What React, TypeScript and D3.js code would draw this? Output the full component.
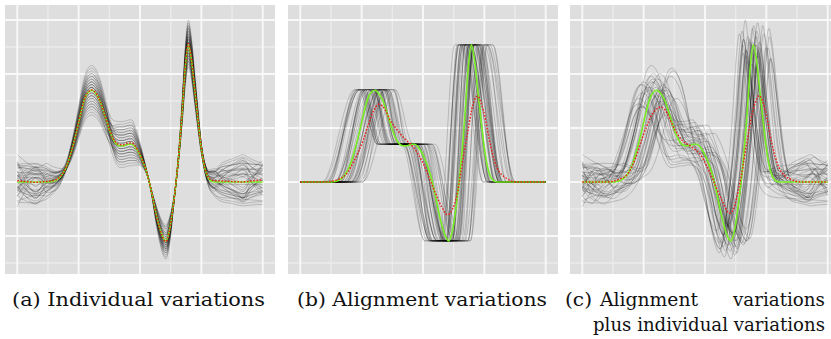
import React from "react";
import * as d3 from "d3";

// ---------- data ----------
const captionA = "(a) Individual variations";
const captionB = "(b) Alignment variations";
const captionCWords = ["(c)", "Alignment", "variations"];
const captionC2 = "plus individual variations";

const xMajor = [0, 0.25, 0.5, 0.75, 1];
const xMinor = [0.125, 0.375, 0.625, 0.875];
const yMajor = [-1, 0, 1, 2, 3];
const yMinor = [-1.5, -0.5, 0.5, 1.5, 2.5];

// template (green) curve: time and value
const tmplT = [0, 0.025, 0.05, 0.075, 0.1, 0.12, 0.14, 0.16, 0.18, 0.2, 0.22, 0.243, 0.256, 0.269, 0.285, 0.303, 0.32, 0.337, 0.35, 0.364, 0.378, 0.391, 0.405, 0.418, 0.432, 0.446, 0.456, 0.466, 0.48, 0.493, 0.507, 0.52, 0.535, 0.55, 0.565, 0.58, 0.593, 0.605, 0.62, 0.635, 0.647, 0.66, 0.672, 0.685, 0.697, 0.71, 0.722, 0.735, 0.75, 0.765, 0.78, 0.8, 0.83, 0.86, 0.89, 0.92, 0.95, 0.98, 1];
const tmplV = [0, 0, 0, 0, 0, 0, 0.01, 0.04, 0.12, 0.28, 0.56, 0.96, 1.22, 1.46, 1.64, 1.7, 1.64, 1.5, 1.33, 1.13, 0.93, 0.79, 0.7, 0.67, 0.67, 0.69, 0.7, 0.7, 0.65, 0.56, 0.43, 0.28, 0.05, -0.25, -0.58, -0.85, -1.02, -1.09, -0.9, -0.45, 0, 0.6, 1.3, 2.15, 2.54, 2.25, 1.75, 1.2, 0.62, 0.24, 0.06, 0, 0, 0, 0, 0, 0, 0, 0];

// cross-sectional means (red) for panels b and c
const redBT = [0, 0.1, 0.12, 0.16, 0.19, 0.22, 0.257, 0.28, 0.3, 0.32, 0.34, 0.366, 0.406, 0.43, 0.46, 0.5, 0.54, 0.576, 0.6, 0.62, 0.637, 0.655, 0.671, 0.685, 0.698, 0.721, 0.746, 0.773, 0.8, 0.84, 0.88, 1];
const redBV = [0, 0, 0.01, 0.06, 0.16, 0.4, 0.78, 1.1, 1.33, 1.44, 1.38, 1.15, 0.9, 0.78, 0.65, 0.35, -0.09, -0.46, -0.61, -0.5, -0.27, 0.2, 0.65, 1.0, 1.33, 1.59, 1.33, 0.72, 0.28, 0.07, 0, 0];
const redCT = [0, 0.1, 0.12, 0.15, 0.187, 0.215, 0.242, 0.283, 0.32, 0.345, 0.364, 0.405, 0.446, 0.487, 0.527, 0.568, 0.6, 0.62, 0.636, 0.655, 0.67, 0.704, 0.721, 0.745, 0.772, 0.8, 0.84, 0.894, 1];
const redCV = [0, 0, 0.01, 0.05, 0.16, 0.42, 0.78, 1.24, 1.39, 1.28, 1.09, 0.78, 0.65, 0.47, 0.1, -0.33, -0.58, -0.45, -0.15, 0.3, 0.72, 1.46, 1.6, 1.33, 0.72, 0.28, 0.07, 0, 0];

// plateau levels of the aligned curves (panel b)
const plateauLevels = [0, 1.71, 0.7, -1.09, 2.54, 0];
const transitionCenters = [0.235, 0.345, 0.52, 0.655, 0.755];
const transitionHalf = [0.06, 0.032, 0.048, 0.032, 0.047];
const warpLandmarks = [0, 0.14, 0.303, 0.45, 0.605, 0.7, 0.8, 1];

// per-curve individual variation scores
const ampP1 = [3, -5, 1, 7, -2, 0, -8, 4, 2, -1, 6, -3, -6, 1, 9, -4, 0, 2, -7, 5, -1, 3, -2, 8, -5, 0, 4, -3, 1, -9, 6, -1, 2, -4, 5, 0, -6, 3, -2, 1];
const ampSh = [-2, 6, 0, -4, 8, 1, -3, 5, -7, 2, -1, 4, 0, -6, 3, 7, -2, -5, 1, 9, -3, 0, 5, -1, -8, 2, 4, -4, 6, -2, 1, -6, 3, 0, -3, 7, 2, -5, 4, -1];
const ampTr = [1, -3, 5, -6, 2, 8, 0, -2, 4, -7, 3, -1, 6, 0, -4, 2, 9, -5, 1, -3, 7, -2, 0, 4, -6, 3, -8, 1, 5, -1, -3, 2, 6, -4, 0, -2, 4, -7, 1, 3];
const ampP2 = [-4, 2, 7, -1, 0, -6, 3, 5, -3, 1, 8, -5, 2, -2, 0, 6, -7, 4, -1, 3, -3, 9, -4, 1, 2, -6, 0, 5, -2, 4, -8, 1, -1, 6, -5, 3, 0, -3, 7, -2];
const baseL1 = [5, -3, 0, 8, -6, 2, -1, 4, -8, 3, 6, -2, 1, -5, 7, 0, -4, 2, 9, -7, 3, -1, 5, -3, 0, -9, 4, 1, -2, 6, -5, 2, -6, 3, 1, -4, 7, -1, 0, -3];
const baseL2 = [-3, 6, 2, -1, 4, -7, 5, 0, 3, -5, 1, 8, -4, 2, -2, 6, -8, 0, 3, -1, 7, -6, 2, 4, -3, 1, -2, 9, -5, 0, 3, -4, 6, -1, -7, 2, 0, 5, -3, 1];
const baseR1 = [2, 7, -4, 0, 5, -2, 8, -6, 1, 3, -8, 4, -1, 6, -3, 0, 2, -7, 5, 1, -5, 3, -2, 9, 0, -4, 6, -1, -6, 2, 4, -3, 7, -5, 1, -2, 3, 0, -9, 5];
const baseR2 = [6, -1, 3, -5, 0, 4, -3, 2, 7, -6, 1, -2, 8, -4, 5, -7, 3, 0, -1, 6, 2, -8, 4, -3, 9, 1, -5, 0, 3, -2, -4, 7, -1, 2, -6, 5, 0, -3, 1, 4];

// per-curve alignment (warping) scores
const warpShift = [-3, 4, 0, -6, 2, 7, -1, 3, -4, 1, 5, -2, -7, 0, 3, -5, 6, 1, -3, 2, -1, 4, -6, 0, 5, -2, 3, -4, 7, -1, 1, -5, 2, 4, -3, 0, 6, -2, 1, -4];
const warpStretch = [2, -5, 7, 0, -3, 4, -8, 1, 6, -2, 3, -6, 0, 5, -4, 8, -1, 2, -7, 3, 4, -3, 1, -5, 9, 0, -2, 6, -4, 1, -6, 3, 5, -1, 0, 7, -3, 2, -8, 4];
const warpSkew = [-1, 3, -6, 4, 0, -3, 7, -2, 5, 1, -4, 2, 6, -5, 0, 3, -8, 1, 4, -2, -6, 5, 0, 2, -3, 8, -1, -4, 3, 6, -2, 0, -5, 7, 1, -3, 2, 4, -7, 0];

// ---------- geometry ----------
const W = 831;
const H = 339;
const panelLefts = [5, 288, 570];
const panelTop = 5;
const panelW = 270;
const panelH = 269;

type Pt = [number, number];

const ramp = (dom: number[], rng: number[]) => d3.scaleLinear().domain(dom).range(rng).clamp(true);
const wP1 = ramp([0.15, 0.21, 0.36, 0.41], [0, 1, 1, 0]);
const wSh = ramp([0.35, 0.41, 0.47, 0.53], [0, 1, 1, 0]);
const wTr = ramp([0.51, 0.56, 0.63, 0.647], [0, 1, 1, 0]);
const wP2 = ramp([0.64, 0.66, 0.77, 0.8], [0, 1, 1, 0]);
const wL1 = ramp([0, 0.12, 0.215], [1, 0.8, 0]);
const wL2 = ramp([0, 0.04, 0.08, 0.12, 0.16, 0.215], [1, -0.3, -0.9, 0.2, 0.35, 0]);
const wR1 = ramp([0.74, 0.82, 1], [0, 0.8, 1]);
const wR2 = ramp([0.74, 0.8, 0.86, 0.92, 0.96, 1], [0, 0.6, -0.2, -0.8, 0.2, 0.9]);

function individual(k: number): Pt[] {
  return tmplT.map((t, j) => {
    const v = tmplV[j];
    const mult = 1 + 0.03 * ampP1[k] * wP1(t) + 0.034 * ampTr[k] * wTr(t) + 0.02 * ampP2[k] * wP2(t);
    const add =
      0.05 * ampSh[k] * wSh(t) +
      0.045 * baseL1[k] * wL1(t) +
      0.035 * baseL2[k] * wL2(t) +
      0.05 * baseR1[k] * wR1(t) +
      0.04 * baseR2[k] * wR2(t);
    return [t, v * mult + add] as Pt;
  });
}

function warpShiftAt(i: number, b: number) {
  const g = 0.01 * warpShift[i];
  const s = 0.014 * warpStretch[i];
  const q = 0.004 * warpSkew[i];
  return g + s * (b - 0.5) + (b > 0.5 ? q : 0);
}

function aligned(i: number): Pt[] {
  const f = 1 + 0.035 * warpSkew[i];
  const starts = transitionCenters.map((c, m) => c + warpShiftAt(i, c) - transitionHalf[m] * f);
  const ends = transitionCenters.map((c, m) => c + warpShiftAt(i, c) + transitionHalf[m] * f);
  const pts: Pt[] = [[0, 0]];
  const push = (a: number, b: number, L: number) => {
    if (b - a > 0.003) {
      pts.push([a, L], [b, L]);
    } else {
      pts.push([(a + b) / 2, L]);
    }
  };
  push(0.001, starts[0], 0);
  for (let m = 1; m <= 4; m++) push(ends[m - 1], starts[m], plateauLevels[m]);
  push(ends[4], 0.999, 0);
  pts.push([1, 0]);
  return pts;
}

function warpedIndividual(i: number): Pt[] {
  const warp = d3
    .scaleLinear()
    .domain(warpLandmarks)
    .range(warpLandmarks.map((b, m) => (m === 0 || m === warpLandmarks.length - 1 ? b : b + warpShiftAt(i, b))));
  const base = individual(ampP1.length - 1 - i);
  return base.map(([t, v]) => [warp(t), v] as Pt);
}

const N = ampP1.length;
const grayA = d3.range(N).map(individual);
const grayB = d3.range(N).map(aligned);
const grayC = d3.range(N).map(warpedIndividual);
const template: Pt[] = tmplT.map((t, j) => [t, tmplV[j]]);
const redA: Pt[] = tmplT.map((t, j) => [t, d3.mean(grayA, (c) => c[j][1]) as number]);
const redB: Pt[] = redBT.map((t, j) => [t, redBV[j]]);
const redC: Pt[] = redCT.map((t, j) => [t, redCV[j]]);

const panels = [
  { gray: grayA, red: redA },
  { gray: grayB, red: redB },
  { gray: grayC, red: redC },
];

function Panel({ left, gray, red, idx }: { left: number; gray: Pt[][]; red: Pt[]; idx: number }) {
  const x = d3.scaleLinear().domain([-0.05, 1.05]).range([left, left + panelW]);
  const y = d3.scaleLinear().domain([-1.7037, 3.2778]).range([panelTop + panelH, panelTop]);
  const line = d3
    .line<Pt>()
    .x((d) => x(d[0]))
    .y((d) => y(d[1]))
    .curve(d3.curveMonotoneX);
  return (
    <g>
      <defs>
        <clipPath id={`clip${idx}`}>
          <rect x={left} y={panelTop} width={panelW} height={panelH} />
        </clipPath>
      </defs>
      <rect x={left} y={panelTop} width={panelW} height={panelH} fill="#DEDEDE" />
      {xMinor.map((t) => (
        <line key={"xm" + t} x1={x(t)} x2={x(t)} y1={panelTop} y2={panelTop + panelH} stroke="#EBEBEB" strokeWidth={1.3} />
      ))}
      {yMinor.map((v) => (
        <line key={"ym" + v} x1={left} x2={left + panelW} y1={y(v)} y2={y(v)} stroke="#EBEBEB" strokeWidth={1.3} />
      ))}
      {xMajor.map((t) => (
        <line key={"xM" + t} x1={x(t)} x2={x(t)} y1={panelTop} y2={panelTop + panelH} stroke="#F8F8F8" strokeWidth={1.9} />
      ))}
      {yMajor.map((v) => (
        <line key={"yM" + v} x1={left} x2={left + panelW} y1={y(v)} y2={y(v)} stroke="#F8F8F8" strokeWidth={1.9} />
      ))}
      <g clipPath={`url(#clip${idx})`}>
        {gray.map((c, i) => (
          <path key={i} d={line(c) || ""} fill="none" stroke="#000" strokeOpacity={0.2} strokeWidth={0.9} />
        ))}
        <path d={line(template) || ""} fill="none" stroke="#77EE22" strokeWidth={1.6} />
        <path d={line(red) || ""} fill="none" stroke="#E8231A" strokeWidth={1.5} strokeDasharray="1.6,1.6" />
      </g>
    </g>
  );
}

export default function App() {
  const font = "'DejaVu Serif', 'Liberation Serif', serif";
  const common = { fontSize: 18.5, fill: "#111", style: { fontFamily: font } };
  return (
    <svg width={W} height={H} style={{ position: "absolute", left: 0, top: 0, background: "#fff" }}>
      {panels.map((p, i) => (
        <Panel key={i} idx={i} left={panelLefts[i]} gray={p.gray} red={p.red} />
      ))}
      <text x={12} y={306} {...common} textLength={253} lengthAdjust="spacingAndGlyphs">
        {captionA}
      </text>
      <text x={297} y={306} {...common} textLength={250} lengthAdjust="spacingAndGlyphs">
        {captionB}
      </text>
      <text x={565} y={306} {...common} textLength={27} lengthAdjust="spacingAndGlyphs">
        {captionCWords[0]}
      </text>
      <text x={600} y={306} {...common} textLength={98} lengthAdjust="spacingAndGlyphs">
        {captionCWords[1]}
      </text>
      <text x={733} y={306} {...common} textLength={92} lengthAdjust="spacingAndGlyphs">
        {captionCWords[2]}
      </text>
      <text x={593} y={331} {...common} textLength={232} lengthAdjust="spacingAndGlyphs">
        {captionC2}
      </text>
    </svg>
  );
}
